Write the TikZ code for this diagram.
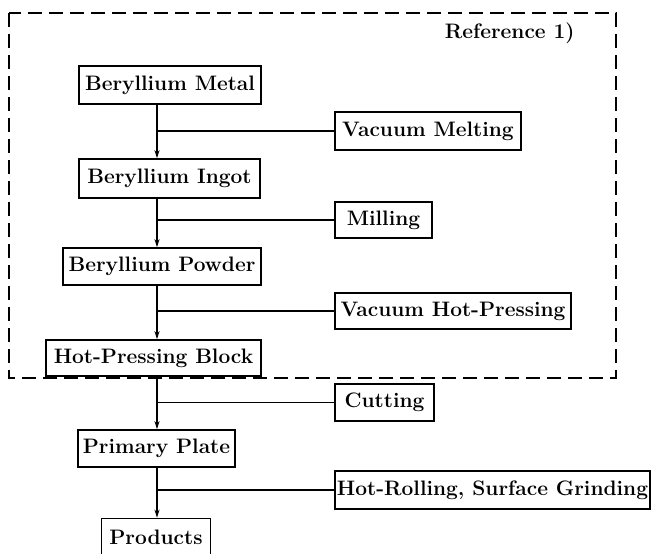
\documentclass[tikz,border=0pt]{standalone}
\usetikzlibrary{arrows.meta}
\begin{document}
\begin{tikzpicture}[x=1bp,y=-1bp,
  every node/.style={font=\fontsize{21}{25}\selectfont\bfseries},
  stage/.style={draw, line width=1.6bp, inner sep=2bp},
  flow/.style={line width=1.6bp, -{Stealth[length=8bp,width=5bp]}},
  feed/.style={line width=1.6bp}]
  \useasboundingbox (0,0) rectangle (651,554);
  % frame round the part taken from reference 1
  \draw[line width=1.8bp, dash pattern=on 14bp off 7bp] (9,13) rectangle (616,378);
  \node[anchor=east] (ref) at (578,33) {Reference 1)};
  \coordinate (spine) at (157,0);
  % main line
  \node[stage, minimum width=182bp, minimum height=38bp] (metal) at (170,85) {Beryllium Metal};
  \node[stage, minimum width=181bp, minimum height=39bp] (ingot) at (169.5,178.5) {Beryllium Ingot};
  \node[stage, minimum width=198bp, minimum height=37bp] (powder) at (162,266.5) {Beryllium Powder};
  \node[stage, minimum width=215bp, minimum height=36bp] (block) at (153.5,358) {Hot-Pressing Block};
  \node[stage, minimum width=157bp, minimum height=37bp] (plate) at (156.5,448.5) {Primary Plate};
  \node[stage, minimum width=109bp, minimum height=38bp] (products) at (156,537.5) {Products};
  % processes
  \node[stage, minimum width=186bp, minimum height=38bp] (melting) at (428,131) {Vacuum Melting};
  \node[stage, minimum width=97bp, minimum height=36bp] (milling) at (383.5,220) {Milling};
  \node[stage, minimum width=236bp, minimum height=36bp] (pressing) at (453,311) {Vacuum Hot-Pressing};
  \node[stage, minimum width=99bp, minimum height=37bp] (cutting) at (384.5,402.5) {Cutting};
  \node[stage, minimum width=315bp, minimum height=38bp] (rolling) at (492.5,490) {Hot-Rolling, Surface Grinding};
  \draw[flow] (metal.south -| spine) -- (ingot.north -| spine);
  \draw[flow] (ingot.south -| spine) -- (powder.north -| spine);
  \draw[flow] (powder.south -| spine) -- (block.north -| spine);
  \draw[flow] (block.south -| spine) -- (plate.north -| spine);
  \draw[flow] (plate.south -| spine) -- (products.north -| spine);
  \draw[feed] (spine |- melting.west) -- (melting.west);
  \draw[feed] (spine |- milling.west) -- (milling.west);
  \draw[feed] (spine |- pressing.west) -- (pressing.west);
  \draw[feed] (spine |- cutting.west) -- (cutting.west);
  \draw[feed] (spine |- rolling.west) -- (rolling.west);
\end{tikzpicture}
\end{document}
